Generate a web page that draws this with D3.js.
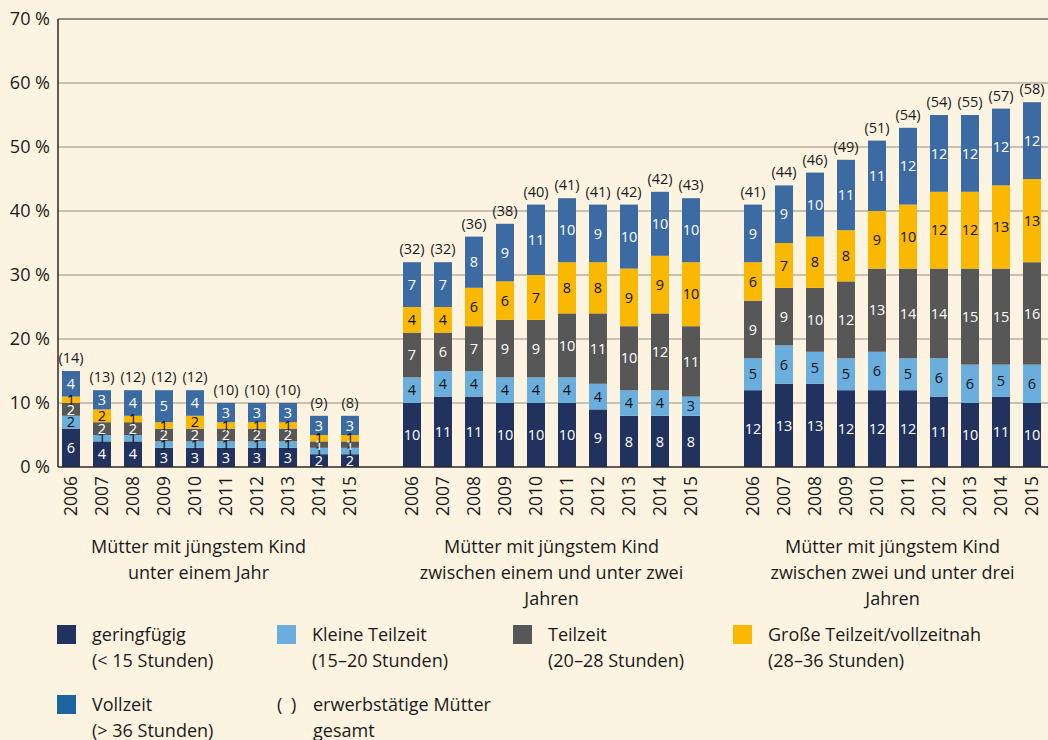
<!DOCTYPE html>
<html lang="de">
<head>
<meta charset="utf-8">
<script src="https://cdn.jsdelivr.net/npm/d3@7"></script>
<style>
  html, body { margin: 0; padding: 0; background: #fdf3e1; }
  svg { display: block; font-family: "Open Sans", "Noto Sans", sans-serif; }
</style>
</head>
<body>
<svg id="chart" width="1048" height="740"></svg>
<script>
// Erwerbstätige Mütter nach Arbeitszeitumfang und Alter des jüngsten Kindes, 2006–2015 (in %)
const years = ["2006", "2007", "2008", "2009", "2010", "2011", "2012", "2013", "2014", "2015"];
const groupTitles = [
  ["Mütter mit jüngstem Kind", "unter einem Jahr"],
  ["Mütter mit jüngstem Kind", "zwischen einem und unter zwei", "Jahren"],
  ["Mütter mit jüngstem Kind", "zwischen zwei und unter drei", "Jahren"]
];
const seriesNames = [
  ["geringfügig", "(< 15 Stunden)"],
  ["Kleine Teilzeit", "(15–20 Stunden)"],
  ["Teilzeit", "(20–28 Stunden)"],
  ["Große Teilzeit/vollzeitnah", "(28–36 Stunden)"],
  ["Vollzeit", "(> 36 Stunden)"]
];
const yTicks = [0, 10, 20, 30, 40, 50, 60, 70];

// one row per age group, one value per year
const geringfuegig   = [[6, 4, 4, 3, 3, 3, 3, 3, 2, 2], [10, 11, 11, 10, 10, 10, 9, 8, 8, 8], [12, 13, 13, 12, 12, 12, 11, 10, 11, 10]];
const kleineTeilzeit = [[2, 1, 1, 1, 1, 1, 1, 1, 1, 1], [4, 4, 4, 4, 4, 4, 4, 4, 4, 3],        [5, 6, 5, 5, 6, 5, 6, 6, 5, 6]];
const teilzeit       = [[2, 2, 2, 2, 2, 2, 2, 2, 1, 1], [7, 6, 7, 9, 9, 10, 11, 10, 12, 11],   [9, 9, 10, 12, 13, 14, 14, 15, 15, 16]];
const grosseTeilzeit = [[1, 2, 1, 1, 2, 1, 1, 1, 1, 1], [4, 4, 6, 6, 7, 8, 8, 9, 9, 10],       [6, 7, 8, 8, 9, 10, 12, 12, 13, 13]];
const vollzeit       = [[4, 3, 4, 5, 4, 3, 3, 3, 3, 3], [7, 7, 8, 9, 11, 10, 9, 10, 10, 10],   [9, 9, 10, 11, 11, 12, 12, 12, 12, 12]];
const gesamt         = [[14, 13, 12, 12, 12, 10, 10, 10, 9, 8], [32, 32, 36, 38, 40, 41, 41, 42, 42, 43], [41, 44, 46, 49, 51, 54, 54, 55, 57, 58]];

const keys = ["g", "k", "t", "gt", "v"];
const barColors = ["#22325f", "#6aaedd", "#575757", "#fbb800", "#3c6aa2"];
const legendColors = ["#22325f", "#6aaedd", "#575757", "#fbb800", "#1b64a0"];
const labelColors = ["#ffffff", "#111111", "#ffffff", "#111111", "#ffffff"];

// build rows; a spacer slot separates the age groups
const seriesData = [geringfuegig, kleineTeilzeit, teilzeit, grosseTeilzeit, vollzeit];
const rows = [];
const slots = [];
groupTitles.forEach((_, gi) => {
  if (gi > 0) slots.push("gap" + gi);
  years.forEach((yr, yi) => {
    const id = gi + "-" + yr;
    slots.push(id);
    const row = { id, group: gi, year: yr, total: gesamt[gi][yi] };
    keys.forEach((k, si) => { row[k] = seriesData[si][gi][yi]; });
    rows.push(row);
  });
});

const svg = d3.select("#chart");
const x = d3.scaleBand().domain(slots).range([55.5, 1047.5]).paddingInner(13 / 31).paddingOuter(6.5 / 31);
const y = d3.scaleLinear().domain([0, 70]).range([467, 19]);
const axisLeftX = 58;

// grid lines
svg.append("g").selectAll("line").data(yTicks.filter(d => d > 0 && d < 70)).join("line")
  .attr("x1", axisLeftX).attr("x2", 1048)
  .attr("y1", d => y(d)).attr("y2", d => y(d))
  .attr("stroke", "#b7afa4").attr("stroke-width", 1.5);

// frame top
svg.append("line").attr("x1", axisLeftX).attr("x2", 1048).attr("y1", y(70)).attr("y2", y(70))
  .attr("stroke", "#2a2a2a").attr("stroke-width", 1.2);

// y axis labels
svg.append("g").selectAll("text").data(yTicks).join("text")
  .attr("x", 50).attr("y", d => y(d)).attr("dy", "0.36em")
  .attr("text-anchor", "end").attr("font-size", 18).attr("fill", "#1a1a1a")
  .text(d => d + " %");

// stacked bars
const stack = d3.stack().keys(keys);
const stacked = stack(rows);
const layers = svg.append("g").selectAll("g").data(stacked).join("g")
  .attr("fill", (d, i) => barColors[i]);
layers.selectAll("rect").data(d => d).join("rect")
  .attr("x", d => x(d.data.id)).attr("width", x.bandwidth())
  .attr("y", d => y(d[1])).attr("height", d => y(d[0]) - y(d[1]));

// segment value labels
const labelLayers = svg.append("g").selectAll("g").data(stacked).join("g")
  .attr("fill", (d, i) => labelColors[i]);
labelLayers.selectAll("text").data(d => d).join("text")
  .attr("x", d => x(d.data.id) + x.bandwidth() / 2)
  .attr("y", d => (y(d[0]) + y(d[1])) / 2).attr("dy", "0.36em")
  .attr("text-anchor", "middle").attr("font-size", 14.5)
  .text(d => d[1] - d[0]);

// totals above each bar
svg.append("g").selectAll("text").data(rows).join("text")
  .attr("x", d => x(d.id) + x.bandwidth() / 2)
  .attr("y", d => y(keys.reduce((s, k) => s + d[k], 0)) - 8)
  .attr("text-anchor", "middle").attr("font-size", 14.5).attr("fill", "#1a1a1a")
  .text(d => "(" + d.total + ")");

// axes lines
svg.append("line").attr("x1", axisLeftX).attr("x2", axisLeftX).attr("y1", y(70)).attr("y2", y(0))
  .attr("stroke", "#2a2a2a").attr("stroke-width", 1.5);
svg.append("line").attr("x1", axisLeftX).attr("x2", 1048).attr("y1", y(0)).attr("y2", y(0))
  .attr("stroke", "#2a2a2a").attr("stroke-width", 1.5);

// year labels, rotated
svg.append("g").selectAll("text").data(rows).join("text")
  .attr("transform", d => `translate(${x(d.id) + x.bandwidth() / 2},476) rotate(-90)`)
  .attr("dy", "0.36em").attr("text-anchor", "end")
  .attr("font-size", 17.5).attr("fill", "#1a1a1a")
  .text(d => d.year);

// group titles
const groupCenters = groupTitles.map((_, gi) => {
  const a = x(gi + "-" + years[0]);
  const b = x(gi + "-" + years[years.length - 1]) + x.bandwidth();
  return (a + b) / 2 - (gi === 0 ? 12 : 0);
});
const titles = svg.append("g").selectAll("text").data(groupTitles).join("text")
  .attr("x", (d, i) => groupCenters[i]).attr("text-anchor", "middle")
  .attr("font-size", 18).attr("fill", "#1a1a1a");
titles.selectAll("tspan").data((d, i) => d.map(t => ({ t, cx: groupCenters[i] }))).join("tspan")
  .attr("x", d => d.cx).attr("y", (d, i) => 553 + i * 26)
  .text(d => d.t);

// legend
const legendPos = [[57, 625], [277, 625], [513, 625], [733, 625], [57, 695]];
const legend = svg.append("g").selectAll("g").data(seriesNames).join("g")
  .attr("transform", (d, i) => `translate(${legendPos[i][0]},${legendPos[i][1]})`);
legend.append("rect").attr("width", 19).attr("height", 19)
  .attr("fill", (d, i) => legendColors[i]);
legend.append("text").attr("font-size", 18).attr("fill", "#1a1a1a")
  .selectAll("tspan").data(d => d).join("tspan")
  .attr("x", 35).attr("y", (d, i) => 16 + i * 26).text(d => d);

const totalItem = svg.append("g").attr("transform", "translate(277,695)");
totalItem.append("text").attr("x", 0).attr("y", 16)
  .attr("font-size", 18).attr("fill", "#1a1a1a")
  .selectAll("tspan").data(["(", ")"]).join("tspan")
  .attr("x", (d, i) => i * 14).text(d => d);
totalItem.append("text").attr("font-size", 18).attr("fill", "#1a1a1a")
  .selectAll("tspan").data(["erwerbstätige Mütter", "gesamt"]).join("tspan")
  .attr("x", 36).attr("y", (d, i) => 16 + i * 26).text(d => d);
</script>
</body>
</html>
